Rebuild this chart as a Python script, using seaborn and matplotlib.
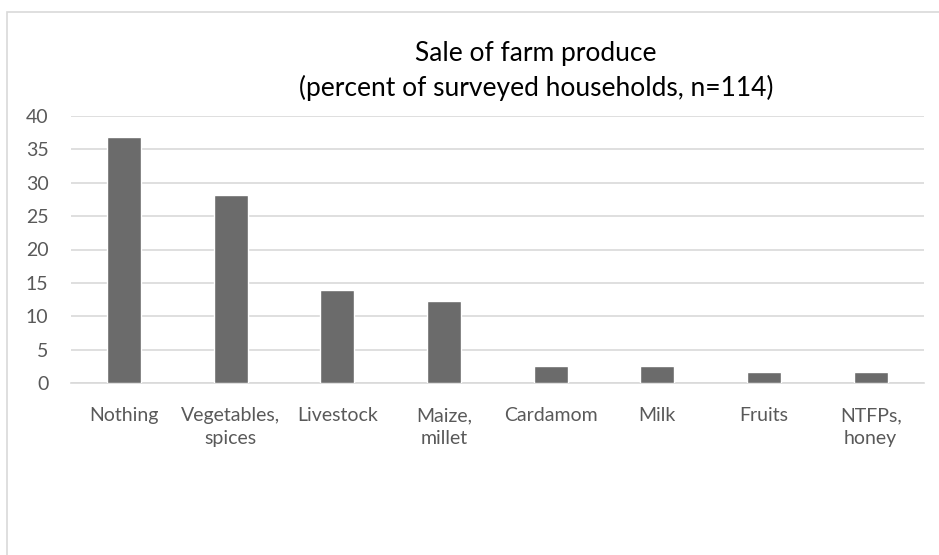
import matplotlib
matplotlib.use("Agg")
import matplotlib.pyplot as plt
import seaborn as sns
import pandas as pd
from matplotlib.patches import Rectangle

categories = ["Nothing", "Vegetables,\nspices", "Livestock", "Maize,\nmillet",
              "Cardamom", "Milk", "Fruits", "NTFPs,\nhoney"]
values = [36.8, 28.1, 14.0, 12.3, 2.6, 2.6, 1.75, 1.75]
yticks = [0, 5, 10, 15, 20, 25, 30, 35, 40]
title = "Sale of farm produce\n(percent of surveyed households, n=114)"

df = pd.DataFrame({"category": categories, "value": values})

sns.set_theme(style="white")
plt.rcParams["font.family"] = ["Lato", "DejaVu Sans"]

fig = plt.figure(figsize=(9.39, 5.55), dpi=100)
ax = fig.add_axes([70.6 / 939, 1 - 383.3 / 555, (924 - 70.6) / 939, (383.3 - 115.7) / 555])

sns.barplot(data=df, x="category", y="value", color="#6b6b6b", saturation=1,
            width=0.32, ax=ax, zorder=3)

ax.set_xlim(-0.5, len(categories) - 0.5)
ax.set_ylim(0, 40)
ax.set_yticks(yticks)
ax.set_yticklabels([str(t) for t in yticks])
ax.yaxis.grid(True, color="#d9d9d9", linewidth=1.2, zorder=0)
ax.xaxis.grid(False)
for s in ["top", "right", "left"]:
    ax.spines[s].set_visible(False)
ax.spines["bottom"].set_color("#d9d9d9")
ax.spines["bottom"].set_linewidth(1.2)
ax.set_xlabel("")
ax.set_ylabel("")
ax.tick_params(axis="both", length=0, colors="#595959", labelsize=14)
ax.tick_params(axis="y", pad=16)
ax.tick_params(axis="x", pad=17)
for lbl in ax.get_xticklabels():
    lbl.set_linespacing(1.45)

fig.text(536 / 939, 1 - 71 / 555, title, ha="center", va="center",
         fontsize=19, color="#000000", linespacing=1.42)

fig.patches.append(Rectangle((7 / 939, -0.1), 1.2, 1 - 12 / 555 + 0.1,
                             transform=fig.transFigure, fill=False,
                             edgecolor="#d9d9d9", linewidth=1.2))

fig.savefig("out.png", dpi=100)
